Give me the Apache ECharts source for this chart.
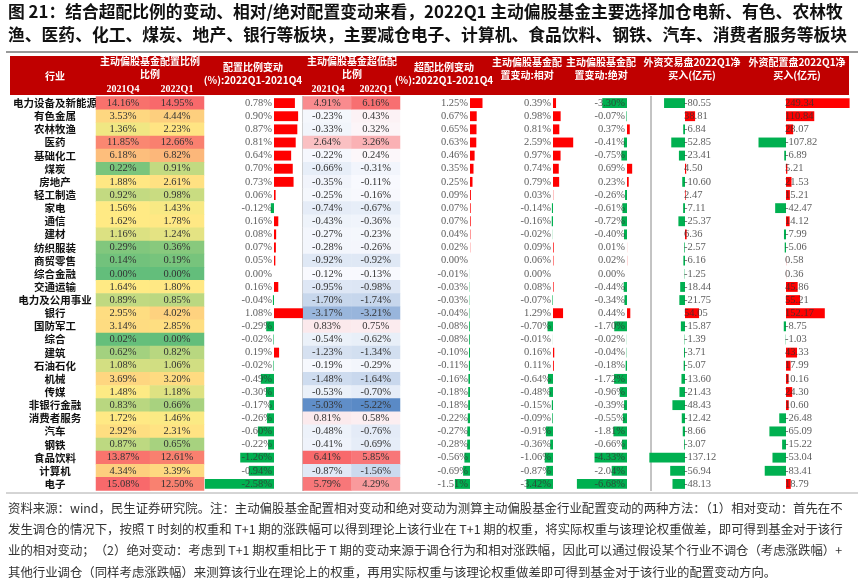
<!DOCTYPE html>
<html><head><meta charset="utf-8">
<script src="https://cdn.jsdelivr.net/npm/echarts@6/dist/echarts.min.js"></script>
<style>html,body{margin:0;padding:0;background:#fff}#c{width:864px;height:584px}</style>
</head><body><div id="c"></div>
<script>
const industries=['电力设备及新能源','有色金属','农林牧渔','医药','基础化工','煤炭','房地产','轻工制造','家电','通信','建材','纺织服装','商贸零售','综合金融','交通运输','电力及公用事业','银行','国防军工','综合','建筑','石油石化','机械','传媒','非银行金融','消费者服务','汽车','钢铁','食品饮料','计算机','电子'];
const weight2021Q4=[14.16,3.53,1.36,11.85,6.18,0.22,1.88,0.92,1.56,1.62,1.16,0.29,0.14,0.00,1.64,0.89,2.95,3.14,0.02,0.62,1.08,3.69,1.48,0.83,1.72,2.92,0.87,13.87,4.34,15.08];
const weight2022Q1=[14.95,4.44,2.23,12.66,6.82,0.91,2.61,0.98,1.43,1.78,1.24,0.36,0.19,0.00,1.80,0.85,4.02,2.85,0.00,0.82,1.06,3.20,1.18,0.66,1.46,2.31,0.65,12.61,3.39,12.50];
const weightChange=[0.78,0.90,0.87,0.81,0.64,0.70,0.73,0.06,-0.12,0.16,0.08,0.07,0.05,0.00,0.16,-0.04,1.08,-0.29,-0.02,0.19,-0.02,-0.49,-0.30,-0.17,-0.26,-0.60,-0.22,-1.26,-0.94,-2.58];
const over2021Q4=[4.91,-0.23,-0.33,2.64,-0.22,-0.66,-0.35,-0.25,-0.74,-0.43,-0.27,-0.28,-0.92,-0.12,-0.95,-1.70,-3.17,0.83,-0.54,-1.23,-0.19,-1.48,-0.53,-5.03,0.81,-0.48,-0.41,6.41,-0.87,5.79];
const over2022Q1=[6.16,0.43,0.32,3.26,0.24,-0.31,-0.11,-0.16,-0.67,-0.36,-0.23,-0.26,-0.92,-0.13,-0.98,-1.74,-3.21,0.75,-0.62,-1.34,-0.29,-1.64,-0.70,-5.22,0.58,-0.76,-0.69,5.85,-1.56,4.29];
const overChange=[1.25,0.67,0.65,0.63,0.46,0.35,0.25,0.09,0.07,0.07,0.04,0.02,0.00,-0.01,-0.03,-0.03,-0.04,-0.08,-0.08,-0.10,-0.11,-0.16,-0.18,-0.18,-0.22,-0.27,-0.28,-0.56,-0.69,-1.51];
const relChange=[0.39,0.98,0.81,2.59,0.97,0.74,0.79,0.03,-0.14,-0.16,-0.02,0.09,0.06,0.00,0.08,-0.07,1.29,-0.70,-0.01,0.16,0.11,-0.64,-0.48,-0.15,-0.09,-0.91,-0.36,-1.06,-0.87,-3.42];
const absChange=[-3.30,-0.07,0.37,-0.41,-0.75,0.69,0.23,-0.26,-0.61,-0.72,-0.40,0.01,0.02,0.00,-0.44,-0.34,0.44,-1.70,-0.02,-0.04,-0.18,-1.72,-0.96,-0.39,-0.55,-1.81,-0.66,-4.33,-2.04,-6.68];
const foreignTrade=[-80.55,38.81,-6.84,-52.85,-23.41,4.50,-10.60,2.47,-7.11,-25.37,6.36,-2.57,-6.16,-1.25,-18.44,-21.75,54.05,-15.87,-1.39,-3.71,-5.07,-13.60,-21.43,-48.43,-12.42,-8.66,-3.07,-137.12,-56.94,-48.13];
const foreignAlloc=[249.34,110.84,28.07,-107.82,-6.89,5.21,21.53,15.21,-42.47,14.12,-7.99,-5.06,0.58,0.36,45.86,55.21,152.17,-8.75,-1.03,43.33,17.99,10.16,24.30,10.60,-26.48,-65.09,-15.22,-53.04,-83.41,18.79];
const periods=['2021Q4','2022Q1'];

const TOP=96.5, H=394;
const serif='Liberation Serif', cjk='Noto Sans CJK SC';
const grids=[], xAxes=[], yAxes=[], series=[];
function catY(gi,show){return {gridIndex:gi,type:'category',data:industries,inverse:true,show:!!show,
  axisLine:{show:false},axisTick:{show:false},
  axisLabel:{show:!!show,interval:0,align:'center',margin:41,fontFamily:cjk,fontWeight:'bold',fontSize:10.5,color:'#111'}};}
function addHeat(left,width,a,b,showY){
  const gi=grids.length;
  grids.push({left,top:TOP,width,height:H});
  xAxes.push({gridIndex:gi,type:'category',data:periods,show:false});
  yAxes.push(catY(gi,showY));
  const d=[];a.forEach((v,i)=>d.push([0,i,v]));b.forEach((v,i)=>d.push([1,i,v]));
  series.push({type:'heatmap',xAxisIndex:gi,yAxisIndex:gi,data:d,
    label:{show:true,fontFamily:serif,fontSize:10.5,color:'#333',formatter:p=>p.value[2].toFixed(2)+'%'}});
  return series.length-1;
}
const h1=addHeat(96,108,weight2021Q4,weight2022Q1,true);
const h2=addHeat(303,97,over2021Q4,over2022Q1,false);
function addBar(vals,zero,scale,min,max,pct,side){
  const gi=grids.length;
  grids.push({left:zero+min*scale,top:TOP,width:(max-min)*scale,height:H});
  xAxes.push({gridIndex:gi,type:'value',min,max,show:false});
  yAxes.push(catY(gi,false));
  series.push({type:'bar',xAxisIndex:gi,yAxisIndex:gi,barCategoryGap:'25%',
    data:vals.map(v=>({value:v,itemStyle:{color:v>=0?'#ff0000':'#00b050'}}))});
  series.push({type:'scatter',xAxisIndex:gi,yAxisIndex:gi,symbolSize:0,z:5,
    data:vals.map((v,i)=>[0,i]),
    label:{show:true,position:side,distance:side==='left'?2:-1,fontFamily:serif,fontSize:10.5,color:'#333',
      formatter:p=>vals[p.dataIndex].toFixed(2)+(pct?'%':'')}});
}
addBar(weightChange,274,26.8,-2.6,1.1,true,'left');
addBar(overChange,470,10,-1.6,1.4,true,'left');
addBar(relChange,553,7.8,-3.6,2.8,true,'left');
addBar(absChange,627,7.5,-7,1,true,'left');
addBar(foreignTrade,685,0.26,-140,60,false,'right');
addBar(foreignAlloc,786,0.255,-110,250,false,'right');

function lerp(c1,c2,t){const a=[1,3,5].map(k=>parseInt(c1.substr(k,2),16)),b=[1,3,5].map(k=>parseInt(c2.substr(k,2),16));
  return 'rgb('+a.map((x,i)=>Math.round(x+(b[i]-x)*t)).join(',')+')';}
const G='#63be7b',Y='#ffeb84',R='#f8696b',B='#5a8ac6',W='#fcfcff';
const c1=[];for(let i=0;i<=20;i++){const v=i*0.75;c1.push(v<=1.5?lerp(G,Y,v/1.5):lerp(Y,R,(v-1.5)/13.5));}
const c2=[];const mn=-5.22,mx=6.41;for(let i=0;i<=40;i++){const v=mn+(mx-mn)*i/40;c2.push(v<0?lerp(W,B,v/mn):lerp(W,R,v/mx));}

const white='#fff', hdr={fill:white,font:'bold 10px "Noto Sans CJK SC"',textAlign:'center',lineHeight:13};
function T(x,y,t,extra){return {type:'text',x,y,style:Object.assign({},hdr,{text:t,textVerticalAlign:'middle'},extra||{})};}
const g=[
 {type:'text',x:8,y:3,style:{text:'图 21：结合超配比例的变动、相对/绝对配置变动来看，2022Q1 主动偏股基金主要选择加仓电新、有色、农林牧',font:'bold 16.8px "Noto Sans CJK SC"',fill:'#111'}},
 {type:'text',x:8,y:26,style:{text:'渔、医药、化工、煤炭、地产、银行等板块，主要减仓电子、计算机、食品饮料、钢铁、汽车、消费者服务等板块',font:'bold 16.8px "Noto Sans CJK SC"',fill:'#111'}},
 {type:'line',shape:{x1:6,y1:52,x2:858,y2:52},style:{stroke:'#777',lineWidth:1.5}},
 {type:'rect',shape:{x:10,y:56,width:839,height:39},style:{fill:'#c00000'}},
 T(55,76,'行业'),
 T(150,68,'主动偏股基金配置比例\n比例'),T(123,89,'2021Q4',{font:'bold 10px "Liberation Serif"'}),T(177,89,'2022Q1',{font:'bold 10px "Liberation Serif"'}),
 T(253,74,'配置比例变动\n(%):2022Q1-2021Q4'),
 T(352,68,'主动偏股基金超低配\n比例'),T(328,89,'2021Q4',{font:'bold 10px "Liberation Serif"'}),T(376,89,'2022Q1',{font:'bold 10px "Liberation Serif"'}),
 T(444,74,'超配比例变动\n(%):2022Q1-2021Q4'),
 T(527,69,'主动偏股基金配\n置变动:相对'),T(601,69,'主动偏股基金配\n置变动:绝对'),
 T(692,69,'外资交易盘2022Q1净\n买入(亿元)'),T(797,69,'外资配置盘2022Q1净\n买入(亿元)'),
 {type:'line',shape:{x1:303,y1:96,x2:303,y2:491},style:{stroke:'#888',lineWidth:1}},
 {type:'line',shape:{x1:651,y1:96,x2:651,y2:491},style:{stroke:'#888',lineWidth:1}},
 {type:'line',shape:{x1:6,y1:493,x2:858,y2:493},style:{stroke:'#aaa',lineWidth:1}}
];
const notes=['资料来源：wind，民生证券研究院。注：主动偏股基金配置相对变动和绝对变动为测算主动偏股基金行业配置变动的两种方法：（1）相对变动：首先在不',
'发生调仓的情况下，按照 T 时刻的权重和 T+1 期的涨跌幅可以得到理论上该行业在 T+1 期的权重，将实际权重与该理论权重做差，即可得到基金对于该行',
'业的相对变动；（2）绝对变动：考虑到 T+1 期权重相比于 T 期的变动来源于调仓行为和相对涨跌幅，因此可以通过假设某个行业不调仓（考虑涨跌幅）+',
'其他行业调仓（同样考虑涨跌幅）来测算该行业在理论上的权重，再用实际权重与该理论权重做差即可得到基金对于该行业的配置变动方向。'];
notes.forEach((t,i)=>g.push({type:'text',x:8,y:502+i*21.3,style:{text:t,font:'12.4px "Noto Sans CJK SC"',fill:'#333'}}));

const chart=echarts.init(document.getElementById('c'));
chart.setOption({animation:false,grid:grids,xAxis:xAxes,yAxis:yAxes,series,
 visualMap:[{show:false,type:'continuous',min:0,max:15,seriesIndex:h1,dimension:2,inRange:{color:c1}},
            {show:false,type:'continuous',min:mn,max:mx,seriesIndex:h2,dimension:2,inRange:{color:c2}}],
 graphic:g});
</script></body></html>
